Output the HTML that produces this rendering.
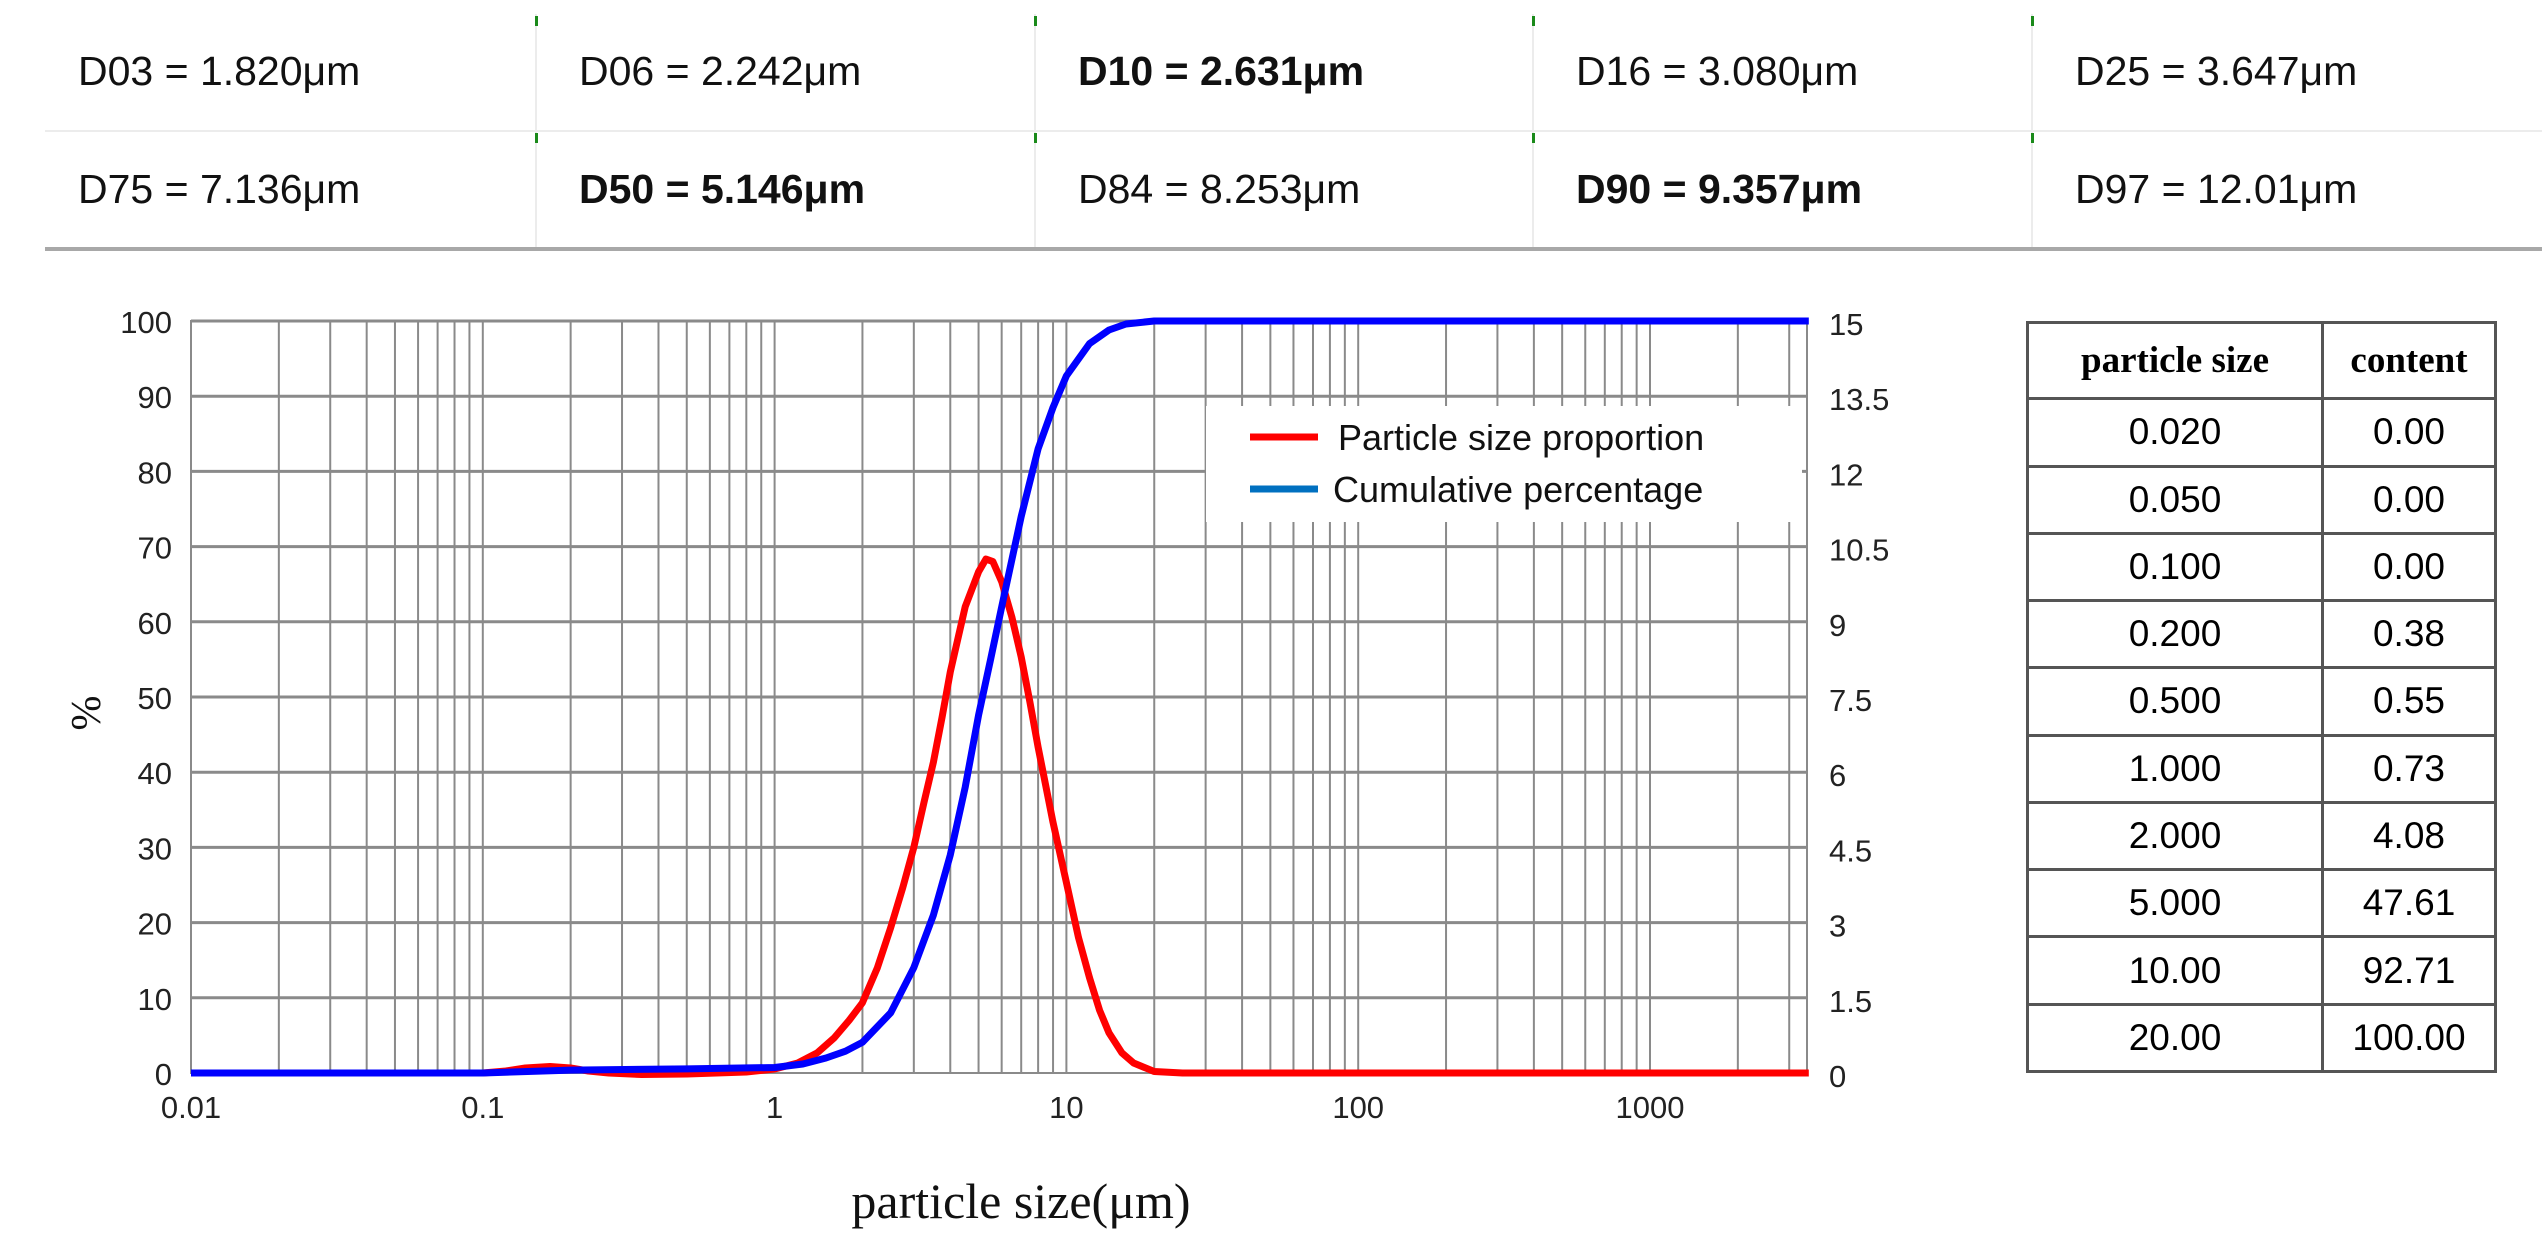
<!DOCTYPE html>
<html><head><meta charset="utf-8">
<style>
body{margin:0;background:#fff;width:2542px;height:1250px;overflow:hidden;position:relative;font-family:"Liberation Sans",sans-serif}
.cell{position:absolute;font-size:41px;color:#111;white-space:nowrap}
.b{font-weight:bold}
.vl{position:absolute;width:2px;background:#ececec}
.gm{position:absolute;width:3px;height:10px;background:#1a8a1a}
</style></head><body>
<div>
<div class="vl" style="left:535px;top:14px;height:234px"></div>
<div class="vl" style="left:1034px;top:14px;height:234px"></div>
<div class="vl" style="left:1532px;top:14px;height:234px"></div>
<div class="vl" style="left:2031px;top:14px;height:234px"></div>
<div style="position:absolute;left:45px;top:130px;width:2497px;height:2px;background:#ececec"></div>
<div style="position:absolute;left:45px;top:247px;width:2497px;height:4px;background:#a8a8a8"></div>
<div class="gm" style="left:535px;top:16px"></div><div class="gm" style="left:1034px;top:16px"></div><div class="gm" style="left:1532px;top:16px"></div><div class="gm" style="left:2031px;top:16px"></div>
<div class="gm" style="left:535px;top:133px"></div><div class="gm" style="left:1034px;top:133px"></div><div class="gm" style="left:1532px;top:133px"></div><div class="gm" style="left:2031px;top:133px"></div>
<div class="cell" style="left:78px;top:48px">D03 = 1.820μm</div>
<div class="cell" style="left:579px;top:48px">D06 = 2.242μm</div>
<div class="cell b" style="left:1078px;top:48px">D10 = 2.631μm</div>
<div class="cell" style="left:1576px;top:48px">D16 = 3.080μm</div>
<div class="cell" style="left:2075px;top:48px">D25 = 3.647μm</div>
<div class="cell" style="left:78px;top:166px">D75 = 7.136μm</div>
<div class="cell b" style="left:579px;top:166px">D50 = 5.146μm</div>
<div class="cell" style="left:1078px;top:166px">D84 = 8.253μm</div>
<div class="cell b" style="left:1576px;top:166px">D90 = 9.357μm</div>
<div class="cell" style="left:2075px;top:166px">D97 = 12.01μm</div>
</div>

<svg id="chart" width="2542" height="1250" style="position:absolute;left:0;top:0" xmlns="http://www.w3.org/2000/svg"></svg>

<table style="position:absolute;left:2026px;top:321px;width:471px;height:752px;border-collapse:collapse;font-size:37px;text-align:center">
<tbody id="tb"></tbody></table>

<script>
const xTicks=[0.01,0.1,1,10,100,1000];
const xTickLabels=["0.01","0.1","1","10","100","1000"];
const leftTicks=[0,10,20,30,40,50,60,70,80,90,100];
const rightTickLabels=["0","1.5","3","4.5","6","7.5","9","10.5","12","13.5","15"];
const redX=[0.01,0.1,0.12,0.14,0.17,0.2,0.23,0.27,0.35,0.5,0.8,1,1.2,1.4,1.6,1.8,2,2.25,2.5,2.75,3,3.25,3.5,3.75,4,4.5,5,5.3,5.6,6,6.5,7,7.5,8,9,10,11,12,13,14,15.5,17,20,25,3500];
const redY=[0,0,0.04,0.1,0.13,0.1,0.04,0,-0.03,-0.02,0.02,0.08,0.2,0.4,0.7,1.05,1.4,2.1,2.9,3.7,4.5,5.4,6.2,7.1,8.0,9.3,10.0,10.25,10.2,9.8,9.1,8.3,7.4,6.5,5.0,3.8,2.7,1.9,1.25,0.8,0.4,0.2,0.03,0,0];
const blueX=[0.01,0.1,0.2,0.5,1,1.25,1.5,1.75,2,2.5,3,3.5,4,4.5,5,5.5,6,7,8,9,10,12,14,16,20,3500];
const blueY=[0,0,0.38,0.55,0.73,1.2,2.0,2.9,4.08,8,14,21,29,38,47.6,55,62,74,83,88.5,92.7,97,98.8,99.6,100,100];
const tableSizes=["0.020","0.050","0.100","0.200","0.500","1.000","2.000","5.000","10.00","20.00"];
const tableContent=["0.00","0.00","0.00","0.38","0.55","0.73","4.08","47.61","92.71","100.00"];

const L=191,R=1807,T=321,B=1073,DEC=291.8;
const NS="http://www.w3.org/2000/svg";
const svg=document.getElementById('chart');
function xs(v){return L+(Math.log10(v)+2)*DEC;}
function yl(v){return B-(v/100)*(B-T);}
function yr(v){return B-(v/15)*(B-T);}
function mk(tag,attrs,parent){const e=document.createElementNS(NS,tag);for(const k in attrs)e.setAttribute(k,attrs[k]);(parent||svg).appendChild(e);return e;}

const grid=mk('g',{stroke:'#8a8a8a','stroke-width':2});


for(let d=-2;d<=3;d++){for(let m=1;m<=9;m++){const v=m*Math.pow(10,d);const x=xs(v);if(x>R)continue;mk('line',{x1:x,x2:x,y1:T,y2:B},grid);}}
leftTicks.forEach(t=>{mk('line',{x1:L,x2:R,y1:yl(t),y2:yl(t),'stroke-width':t===0?2:3},grid);});
mk('rect',{x:L,y:T,width:R-L,height:B-T,fill:'none',stroke:'#8a8a8a','stroke-width':2});

const lt=mk('g',{'font-size':31,fill:'#222','text-anchor':'end'});


leftTicks.forEach(t=>{const e=mk('text',{x:172,y:yl(t)+12},lt);e.textContent=t;});
const rt=mk('g',{'font-size':31,fill:'#222'});


rightTickLabels.forEach((s,i)=>{const e=mk('text',{x:1829,y:yr(i*1.5)+14},rt);e.textContent=s;});
const xt=mk('g',{'font-size':31,fill:'#222','text-anchor':'middle'});


xTicks.forEach((t,i)=>{const e=mk('text',{x:xs(t),y:1118},xt);e.textContent=xTickLabels[i];});

const xl=mk('text',{x:1021,y:1218,'font-size':50,'font-family':'Liberation Serif, serif','text-anchor':'middle',fill:'#111'});
xl.textContent='particle size(μm)';


const ylb=mk('text',{x:0,y:0,'font-size':42,'font-family':'Liberation Serif, serif','text-anchor':'middle',fill:'#111',transform:'translate(100,713) rotate(-90)'});
ylb.textContent='%';



function path(xa,ya,yf,color,name){let d='';xa.forEach((x,i)=>{d+=(i?'L':'M')+xs(x).toFixed(1)+','+yf(ya[i]).toFixed(1);});const p=mk('path',{d:d,fill:'none',stroke:color,'stroke-width':7,'stroke-linejoin':'round'});}
path(redX,redY,yr,'#ff0000','particle-size-proportion-line');
path(blueX,blueY,yl,'#0000ff','cumulative-percentage-line');

const lg=mk('g',{});


mk('rect',{x:1206,y:406,width:596,height:116,fill:'#fff'},lg);
mk('line',{x1:1250,x2:1318,y1:437,y2:437,stroke:'#ff0000','stroke-width':7},lg);
mk('line',{x1:1250,x2:1318,y1:489,y2:489,stroke:'#0070c0','stroke-width':7},lg);
const l1=mk('text',{x:1338,y:450,'font-size':36,fill:'#111'},lg);l1.textContent='Particle size proportion';
const l2=mk('text',{x:1333,y:502,'font-size':36,fill:'#111'},lg);l2.textContent='Cumulative percentage';

const tb=document.getElementById('tb');
const cs='border:3px solid #555;';
let h='<tr style="height:76px;font-family:\'Liberation Serif\',serif;font-weight:bold;font-size:37px"><td style="'+cs+'width:290px">particle size</td><td style="'+cs+'">content</td></tr>';
tableSizes.forEach((s,i)=>{h+='<tr style="height:67px"><td style="'+cs+'">'+s+'</td><td style="'+cs+'">'+tableContent[i]+'</td></tr>';});
tb.innerHTML=h;
tb.querySelectorAll('tr').forEach((r,i)=>{if(i>0){}});
</script>
</body></html>
